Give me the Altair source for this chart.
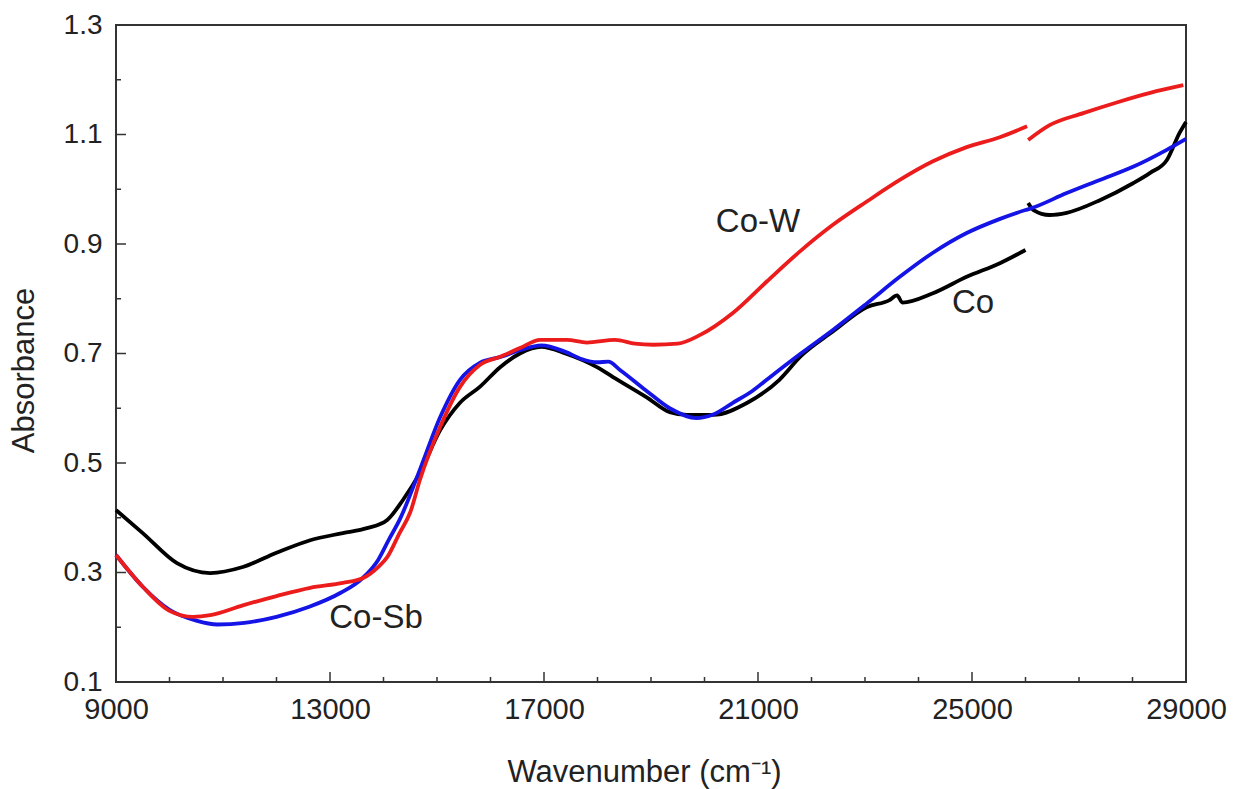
import altair as alt
import pandas as pd

# ---- data ----
co_wn = [9000, 9500, 10140, 10760, 11370, 12000, 12630, 13240, 13690, 14070, 14360, 14680,
         15060, 15430, 15800, 16180, 16550, 16950, 17400, 17990, 18290, 18920, 19350, 19670,
         20160, 20800, 21400, 21800, 22400, 23040, 23450, 23600, 23700, 24270, 24900, 25520, 26000]
co_abs = [0.414, 0.372, 0.317, 0.299, 0.310, 0.336, 0.359, 0.372, 0.381, 0.396, 0.432, 0.482,
          0.560, 0.610, 0.639, 0.675, 0.700, 0.712, 0.700, 0.675, 0.657, 0.620, 0.593, 0.588,
          0.588, 0.610, 0.652, 0.695, 0.740, 0.785, 0.797, 0.806, 0.793, 0.810, 0.840, 0.865, 0.889]
co_tail_wn = [26050, 26150, 26450, 26770, 27390, 28010, 28330, 28640, 28880, 29000]
co_tail_abs = [0.975, 0.962, 0.953, 0.957, 0.980, 1.011, 1.030, 1.053, 1.103, 1.123]

cosb_wn = [9000, 9500, 10000, 10500, 10900, 11400, 12000, 12600, 13200, 13600, 13900, 14100,
           14300, 14700, 15060, 15430, 15800, 16200, 16550, 16950, 17400, 17700, 18000, 18200,
           18420, 18900, 19350, 19850, 20150, 20530, 20900, 21200, 21800, 22400, 23040, 23650,
           24270, 24900, 25500, 26000, 26100, 26770, 27390, 28010, 28640, 29000]
cosb_abs = [0.332, 0.274, 0.232, 0.212, 0.205, 0.208, 0.219, 0.237, 0.263, 0.289, 0.323, 0.360,
            0.396, 0.493, 0.584, 0.652, 0.683, 0.694, 0.706, 0.715, 0.703, 0.690, 0.684, 0.685,
            0.670, 0.633, 0.600, 0.582, 0.588, 0.610, 0.632, 0.655, 0.700, 0.743, 0.792, 0.840,
            0.884, 0.920, 0.945, 0.962, 0.965, 0.993, 1.017, 1.041, 1.072, 1.092]

cow_wn = [9000, 9500, 10000, 10440, 10760, 11370, 12000, 12630, 13240, 13620, 13900, 14070,
          14300, 14500, 14680, 15060, 15430, 15800, 16180, 16550, 16930, 17430, 17800, 18330,
          18700, 19040, 19500, 19920, 20530, 21170, 21790, 22400, 23040, 23650, 24270, 24900,
          25520, 26030]
cow_abs = [0.332, 0.274, 0.230, 0.219, 0.222, 0.240, 0.257, 0.272, 0.281, 0.290, 0.310, 0.328,
           0.372, 0.410, 0.469, 0.566, 0.639, 0.679, 0.694, 0.710, 0.725, 0.725, 0.720, 0.725,
           0.718, 0.716, 0.718, 0.734, 0.774, 0.832, 0.887, 0.935, 0.978, 1.017, 1.051, 1.077,
           1.095, 1.115]
cow_tail_wn = [26050, 26450, 27080, 27720, 28330, 28950]
cow_tail_abs = [1.090, 1.117, 1.139, 1.159, 1.176, 1.190]

series_names = ["Co", "Co-Sb", "Co-W"]
series_colors = ["#000000", "#1414e6", "#ec1c1c"]

label_text = ["Co-W", "Co", "Co-Sb"]
label_wn = [21000, 25020, 13860]
label_abs = [0.940, 0.792, 0.217]

x_major = [9000, 13000, 17000, 21000, 25000, 29000]
x_minor = [10000, 11000, 12000, 14000, 15000, 16000, 18000, 19000, 20000,
           22000, 23000, 24000, 26000, 27000, 28000]
y_major = [0.1, 0.3, 0.5, 0.7, 0.9, 1.1, 1.3]
y_minor = [0.2, 0.4, 0.6, 0.8, 1.0, 1.2]

# ---- build tables ----
rows = []
def add(series, seg, wns, vals):
    for i, (w, a) in enumerate(zip(wns, vals)):
        rows.append({"series": series, "seg": seg, "wn": w, "abs": a, "i": i})

add("Co", "Co-a", co_wn, co_abs)
add("Co", "Co-b", co_tail_wn, co_tail_abs)
add("Co-Sb", "Sb-a", cosb_wn, cosb_abs)
add("Co-W", "W-a", cow_wn, cow_abs)
add("Co-W", "W-b", cow_tail_wn, cow_tail_abs)
df = pd.DataFrame(rows)

W, H = 1070, 657
FONT = "Liberation Sans"
xscale = alt.Scale(domain=[9000, 29000], nice=False, zero=False)
yscale = alt.Scale(domain=[0.1, 1.3], nice=False, zero=False)

xaxis = alt.Axis(values=x_major, format="d", ticks=False, domain=False, grid=False,
                 labelFlush=False, labelOverlap=False,
                 labelFontSize=29, labelFont=FONT, labelColor="#222", labelPadding=13,
                 title="Wavenumber (cm\u207b\u00b9)", titleFont=FONT, titleFontSize=31,
                 titleFontWeight="normal", titleColor="#222",
                 titleBaseline="alphabetic", titleX=528, titleY=99)
yaxis = alt.Axis(values=y_major, format=".1f", ticks=False, domain=False, grid=False,
                 labelFlush=False, labelOverlap=False,
                 labelFontSize=28, labelFont=FONT, labelColor="#222", labelPadding=14,
                 title="Absorbance", titleFont=FONT, titleFontSize=31,
                 titleFontWeight="normal", titleColor="#222",
                 titleBaseline="alphabetic", titleX=-83, titleY=345)


def X(field):
    return alt.X(field, scale=xscale, axis=xaxis)


def Y(field):
    return alt.Y(field, scale=yscale, axis=yaxis)


layers = []
for name, col in zip(series_names, series_colors):
    layers.append(
        alt.Chart(df).transform_filter(alt.datum.series == name)
        .mark_line(color=col, strokeWidth=3.8, interpolate="monotone")
        .encode(x=X("wn:Q"), y=Y("abs:Q"), detail="seg:N", order="i:Q")
    )

# inward ticks (major and minor)
xt_major = alt.Chart(pd.DataFrame({"wn": x_major})).mark_rule(color="#333", strokeWidth=1.5).encode(
    x=X("wn:Q"), y=alt.value(H), y2=alt.value(H - 10))
xt_minor = alt.Chart(pd.DataFrame({"wn": x_minor})).mark_rule(color="#333", strokeWidth=1.5).encode(
    x=X("wn:Q"), y=alt.value(H), y2=alt.value(H - 5))
yt_major = alt.Chart(pd.DataFrame({"abs": y_major})).mark_rule(color="#333", strokeWidth=1.5).encode(
    y=Y("abs:Q"), x=alt.value(0), x2=alt.value(10))
yt_minor = alt.Chart(pd.DataFrame({"abs": y_minor})).mark_rule(color="#333", strokeWidth=1.5).encode(
    y=Y("abs:Q"), x=alt.value(0), x2=alt.value(5))

labels = alt.Chart(pd.DataFrame({"t": label_text, "wn": label_wn, "abs": label_abs})).mark_text(
    font=FONT, fontSize=33, color="#222", align="center", baseline="middle"
).encode(x=X("wn:Q"), y=Y("abs:Q"), text="t:N")

chart = alt.layer(*layers, xt_major, xt_minor, yt_major, yt_minor, labels).properties(
    width=W, height=H,
    autosize=alt.AutoSizeParams(type="none"),
    padding={"left": 116, "top": 25, "right": 55, "bottom": 107},
    background="white",
).configure_view(stroke="#333", strokeWidth=2)

chart.save("out.html", embed_options={"renderer": "svg", "actions": False})
